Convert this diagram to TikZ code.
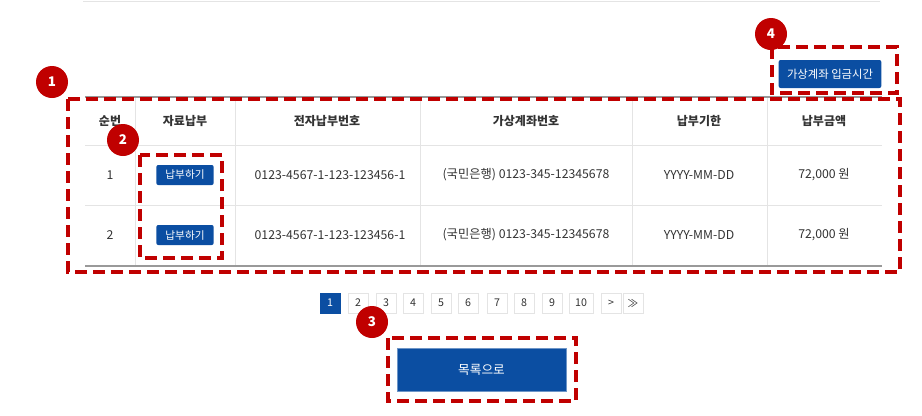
\documentclass[tikz,border=0pt]{standalone}
\usepackage{fontspec}
\setmainfont{Noto Sans CJK KR}
\definecolor{btn}{HTML}{0B4EA2}
\definecolor{mark}{HTML}{C00000}
\definecolor{grid}{HTML}{E4E4E4}
\definecolor{txt}{HTML}{333333}
\begin{document}
\begin{tikzpicture}[x=0.75pt,y=-0.75pt,
  hl/.style={draw=mark,line width=3pt,dash pattern=on 9pt off 4.5pt},
  badge/.style={circle,fill=mark,text=white,minimum size=24pt,inner sep=0pt,font=\bfseries\fontsize{10}{10}\selectfont},
  bluebtn/.style={fill=btn,text=white,rounded corners=1.5pt,inner sep=0pt,font=\fontsize{8}{9}\selectfont},
  cell/.style={text=txt,font=\fontsize{9.2}{10}\selectfont},
  head/.style={text=txt,font=\bfseries\fontsize{9}{10}\selectfont},
  pg/.style={draw=grid,fill=white,minimum height=15pt,inner sep=0pt,text=txt,font=\fontsize{8}{9}\selectfont}]
\useasboundingbox (0,0) rectangle (922,415);
\fill[white] (0,0) rectangle (922,415);
\draw[grid] (83,1) -- (880,1);
% table grid
\foreach \x in {135,235,420,632,767} \draw[grid] (\x,98) -- (\x,266);
\draw[grid] (85,145) -- (882,145);
\draw[grid] (85,205) -- (882,205);
\draw[gray!80,line width=1.2pt] (85,97) -- (882,97);
\draw[gray!80,line width=0.8pt] (85,266) -- (882,266);
% headers
\node[head] (h1) at (110,121) {순번};
\node[head] (h2) at (185,121) {자료납부};
\node[head] (h3) at (327,121) {전자납부번호};
\node[head] (h4) at (526,121) {가상계좌번호};
\node[head] (h5) at (699,121) {납부기한};
\node[head] (h6) at (824,121) {납부금액};
\foreach \r/\y in {1/175,2/235}{
  \node[cell] (n\r) at (110,\y) {\r};
  \node[bluebtn,minimum width=43pt,minimum height=15pt] (b\r) at (185,\y) {납부하기};
  \node[cell] (e\r) at (330,\y) {0123-4567-1-123-123456-1};
  \node[cell] (v\r) at (526,\y) {(국민은행) 0123-345-12345678};
  \node[cell] (d\r) at (699,\y) {YYYY-MM-DD};
  \node[cell] (a\r) at (824,\y) {72,000 원};
}
% top button
\node[bluebtn,minimum width=77pt,minimum height=21pt,font=\fontsize{8.5}{9}\selectfont] (vt) at (830,74) {가상계좌 입금시간};
% pagination
\node[pg,minimum width=15pt,fill=btn,draw=btn,text=white] (p1) at (330,303) {1};
\foreach \i/\x in {2/358,3/386,4/413,5/441,6/468,7/497,8/524,9/552}
  \node[pg,minimum width=15pt] (p\i) at (\x,303) {\i};
\node[pg,minimum width=18pt] (p10) at (581,303) {10};
\node[pg,minimum width=15pt] (pn) at (611,303) {>};
\node[pg,minimum width=15pt] (pl) at (633,303) {≫};
% list button
\node[fill=btn,draw=btn!60,text=white,minimum width=127pt,minimum height=32pt,inner sep=0pt,font=\fontsize{9.5}{10}\selectfont] (list) at (481.5,369.5) {목록으로};
% highlights
\draw[hl] (68,99) rectangle (900,272);
\draw[hl] (140,155) rectangle (222,258);
\draw[hl] (772,47) rectangle (897,93);
\draw[hl] (388,338) rectangle (576,401);
\node[badge] (m1) at (52,82) {1};
\node[badge] (m2) at (123,140) {2};
\node[badge] (m3) at (372,322) {3};
\node[badge] (m4) at (771,34) {4};
\end{tikzpicture}
\end{document}
